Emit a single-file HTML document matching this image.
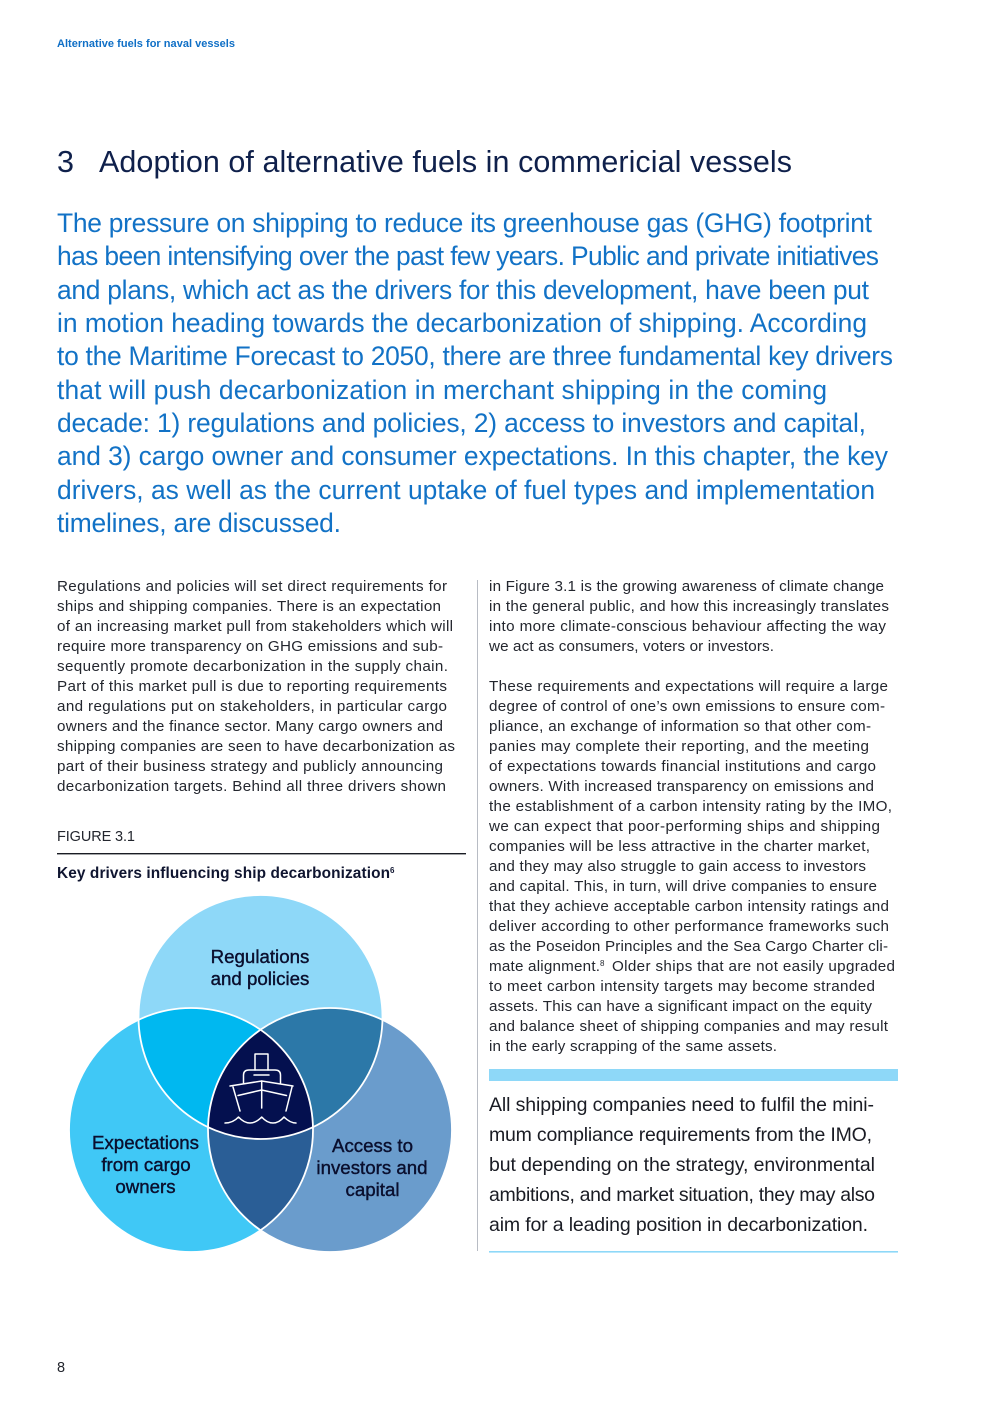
<!DOCTYPE html>
<html><head><meta charset="utf-8"><style>
html,body{margin:0;padding:0;background:#fff}
svg{display:block}
text{font-family:"Liberation Sans",sans-serif;white-space:pre}
.b text{font-size:15.2px;fill:#23262e}
.i text{font-size:26.4px;fill:#1272c6}
.q text{font-size:19.5px;fill:#1a1c24}
.l text{font-size:18.7px;fill:#0a0f2e;stroke:#0a0f2e;stroke-width:.4}
</style></head><body>
<svg width="992" height="1403" viewBox="0 0 992 1403" xmlns="http://www.w3.org/2000/svg">
<rect width="992" height="1403" fill="#fff"/>
<text x="57" y="47" font-size="11" font-weight="700" fill="#0f6fc6" textLength="178" lengthAdjust="spacing">Alternative fuels for naval vessels</text>
<text x="57" y="172" font-size="30.5" fill="#0f204b">3</text>
<text x="99" y="172" font-size="30.5" fill="#0f204b" textLength="693" lengthAdjust="spacing">Adoption of alternative fuels in commericial vessels</text>
<g class="i">
<text x="57" y="232" textLength="815" lengthAdjust="spacing">The pressure on shipping to reduce its greenhouse gas (GHG) footprint</text>
<text x="57" y="265" textLength="822" lengthAdjust="spacing">has been intensifying over the past few years. Public and private initiatives</text>
<text x="57" y="299" textLength="812" lengthAdjust="spacing">and plans, which act as the drivers for this development, have been put</text>
<text x="57" y="332" textLength="810" lengthAdjust="spacing">in motion heading towards the decarbonization of shipping. According</text>
<text x="57" y="365" textLength="836" lengthAdjust="spacing">to the Maritime Forecast to 2050, there are three fundamental key drivers</text>
<text x="57" y="399" textLength="770" lengthAdjust="spacing">that will push decarbonization in merchant shipping in the coming</text>
<text x="57" y="432" textLength="809" lengthAdjust="spacing">decade: 1) regulations and policies, 2) access to investors and capital,</text>
<text x="57" y="465" textLength="831" lengthAdjust="spacing">and 3) cargo owner and consumer expectations. In this chapter, the key</text>
<text x="57" y="499" textLength="818" lengthAdjust="spacing">drivers, as well as the current uptake of fuel types and implementation</text>
<text x="57" y="532" textLength="284" lengthAdjust="spacing">timelines, are discussed.</text>
</g>
<g class="b">
<text x="57" y="591" textLength="390" lengthAdjust="spacing">Regulations and policies will set direct requirements for</text>
<text x="57" y="611" textLength="384" lengthAdjust="spacing">ships and shipping companies. There is an expectation</text>
<text x="57" y="631" textLength="396" lengthAdjust="spacing">of an increasing market pull from stakeholders which will</text>
<text x="57" y="651" textLength="386" lengthAdjust="spacing">require more transparency on GHG emissions and sub-</text>
<text x="57" y="671" textLength="391" lengthAdjust="spacing">sequently promote decarbonization in the supply chain.</text>
<text x="57" y="691" textLength="390" lengthAdjust="spacing">Part of this market pull is due to reporting requirements</text>
<text x="57" y="711" textLength="390" lengthAdjust="spacing">and regulations put on stakeholders, in particular cargo</text>
<text x="57" y="731" textLength="386" lengthAdjust="spacing">owners and the finance sector. Many cargo owners and</text>
<text x="57" y="751" textLength="398" lengthAdjust="spacing">shipping companies are seen to have decarbonization as</text>
<text x="57" y="771" textLength="386" lengthAdjust="spacing">part of their business strategy and publicly announcing</text>
<text x="57" y="791" textLength="389" lengthAdjust="spacing">decarbonization targets. Behind all three drivers shown</text>
<text x="489" y="591" textLength="395" lengthAdjust="spacing">in Figure 3.1 is the growing awareness of climate change</text>
<text x="489" y="611" textLength="400" lengthAdjust="spacing">in the general public, and how this increasingly translates</text>
<text x="489" y="631" textLength="397" lengthAdjust="spacing">into more climate-conscious behaviour affecting the way</text>
<text x="489" y="651" textLength="285" lengthAdjust="spacing">we act as consumers, voters or investors.</text>
<text x="489" y="691" textLength="399" lengthAdjust="spacing">These requirements and expectations will require a large</text>
<text x="489" y="711" textLength="396" lengthAdjust="spacing">degree of control of one’s own emissions to ensure com-</text>
<text x="489" y="731" textLength="382" lengthAdjust="spacing">pliance, an exchange of information so that other com-</text>
<text x="489" y="751" textLength="380" lengthAdjust="spacing">panies may complete their reporting, and the meeting</text>
<text x="489" y="771" textLength="387" lengthAdjust="spacing">of expectations towards financial institutions and cargo</text>
<text x="489" y="791" textLength="385" lengthAdjust="spacing">owners. With increased transparency on emissions and</text>
<text x="489" y="811" textLength="403" lengthAdjust="spacing">the establishment of a carbon intensity rating by the IMO,</text>
<text x="489" y="831" textLength="391" lengthAdjust="spacing">we can expect that poor-performing ships and shipping</text>
<text x="489" y="851" textLength="381" lengthAdjust="spacing">companies will be less attractive in the charter market,</text>
<text x="489" y="871" textLength="377" lengthAdjust="spacing">and they may also struggle to gain access to investors</text>
<text x="489" y="891" textLength="388" lengthAdjust="spacing">and capital. This, in turn, will drive companies to ensure</text>
<text x="489" y="911" textLength="400" lengthAdjust="spacing">that they achieve acceptable carbon intensity ratings and</text>
<text x="489" y="931" textLength="400" lengthAdjust="spacing">deliver according to other performance frameworks such</text>
<text x="489" y="951" textLength="399" lengthAdjust="spacing">as the Poseidon Principles and the Sea Cargo Charter cli-</text>
<text x="489" y="971" textLength="111" lengthAdjust="spacing">mate alignment.</text><text x="600" y="966" style="font-size:8px">8</text><text x="612" y="971" textLength="283" lengthAdjust="spacing">Older ships that are not easily upgraded</text>
<text x="489" y="991" textLength="386" lengthAdjust="spacing">to meet carbon intensity targets may become stranded</text>
<text x="489" y="1011" textLength="383" lengthAdjust="spacing">assets. This can have a significant impact on the equity</text>
<text x="489" y="1031" textLength="399" lengthAdjust="spacing">and balance sheet of shipping companies and may result</text>
<text x="489" y="1051" textLength="288" lengthAdjust="spacing">in the early scrapping of the same assets.</text>
</g>
<text x="57" y="841" font-size="14.5" fill="#23262e" textLength="78" lengthAdjust="spacing">FIGURE 3.1</text>
<rect x="57" y="853" width="409" height="1.4" fill="#1a1c24"/>
<text x="57" y="878" font-size="15.4" font-weight="700" fill="#0f1530" textLength="333" lengthAdjust="spacing">Key drivers influencing ship decarbonization</text>
<text x="390" y="873" font-size="8" font-weight="700" fill="#0f1530">6</text>
<rect x="477" y="580" width="1" height="671" fill="#b8bcc4"/>
<defs>
<clipPath id="ct"><circle cx="260.5" cy="1017" r="122"/></clipPath>
<clipPath id="cl"><circle cx="191" cy="1130" r="122"/></clipPath>
<clipPath id="cr"><circle cx="330" cy="1130" r="122"/></clipPath>
</defs>
<circle cx="260.5" cy="1017" r="122" fill="#8ed8f8"/>
<circle cx="330" cy="1130" r="122" fill="#6a9ccc"/>
<circle cx="191" cy="1130" r="122" fill="#40c8f6"/>
<circle cx="260.5" cy="1017" r="122" fill="#00b8f0" clip-path="url(#cl)"/>
<circle cx="260.5" cy="1017" r="122" fill="#2c78a8" clip-path="url(#cr)"/>
<circle cx="191" cy="1130" r="122" fill="#2a5e96" clip-path="url(#cr)"/>
<g clip-path="url(#cr)"><circle cx="191" cy="1130" r="122" fill="#04104f" clip-path="url(#ct)"/></g>
<g fill="none" stroke="#fff" stroke-width="1.8">
<circle cx="260.5" cy="1017" r="122"/>
<circle cx="191" cy="1130" r="122"/>
<circle cx="330" cy="1130" r="122"/>
</g>
<g fill="none" stroke="#fff" stroke-width="1.5" stroke-linejoin="round" stroke-linecap="round">
<path d="M255 1070V1054H268V1070"/>
<path d="M243.5 1083V1075Q243.5 1070 249 1070H275Q280.5 1070 280.5 1075V1083"/>
<path d="M254 1075H269"/>
<path d="M230 1086L261.7 1081L293 1086"/>
<path d="M238 1095.5L261.7 1090L286.5 1095.5"/>
<path d="M233 1087L240 1111M292 1087L286 1111M261.7 1081V1108"/>
<path d="M225 1123Q233 1123 238.5 1117Q244 1123 250 1123Q256 1123 261.7 1117Q267 1123 273 1123Q279 1123 284 1117Q290 1123 296 1123"/>
</g>
<g class="l" text-anchor="middle">
<text x="260" y="963">Regulations</text>
<text x="260" y="985">and policies</text>
<text x="145.5" y="1149">Expectations</text>
<text x="146" y="1171">from cargo</text>
<text x="145.5" y="1193">owners</text>
<text x="372.5" y="1152">Access to</text>
<text x="372" y="1174">investors and</text>
<text x="372.5" y="1196">capital</text>
</g>
<rect x="489" y="1069" width="409" height="12" fill="#8ed8f8"/>
<g class="q">
<text x="489" y="1111" textLength="385" lengthAdjust="spacing">All shipping companies need to fulfil the mini-</text>
<text x="489" y="1141" textLength="383" lengthAdjust="spacing">mum compliance requirements from the IMO,</text>
<text x="489" y="1171" textLength="386" lengthAdjust="spacing">but depending on the strategy, environmental</text>
<text x="489" y="1201" textLength="386" lengthAdjust="spacing">ambitions, and market situation, they may also</text>
<text x="489" y="1231" textLength="379" lengthAdjust="spacing">aim for a leading position in decarbonization.</text>
</g>
<rect x="489" y="1251" width="409" height="1.6" fill="#8ed8f8"/>
<text x="57" y="1372" font-size="14.5" fill="#23262e">8</text>
</svg>
</body></html>
